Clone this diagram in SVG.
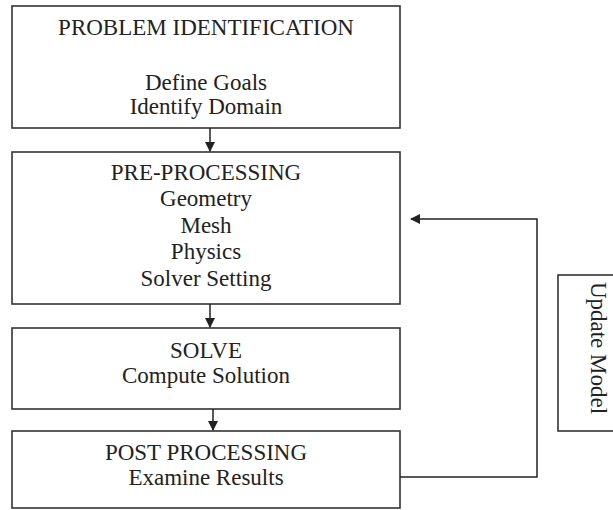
<svg xmlns="http://www.w3.org/2000/svg" width="613" height="510" viewBox="0 0 613 510">
<style>
.box{fill:#fff;stroke:#333;stroke-width:1.6}
.t{font-family:"Liberation Serif","Times New Roman",serif;font-size:23px;fill:#222;text-anchor:middle}
.c{fill:none;stroke:#222;stroke-width:1.5}
</style>
<defs>
<marker id="ah" viewBox="0 0 10 10" refX="9" refY="5" markerWidth="10" markerHeight="10" markerUnits="userSpaceOnUse" orient="auto">
<path d="M0,0 L10,5 L0,10 Z" fill="#222"/>
</marker>
</defs>
<rect width="613" height="510" fill="#fff"/>
<g id="problem-identification">
<rect class="box" x="12" y="6" width="388" height="122"/>
<text class="t" x="206" y="35">PROBLEM IDENTIFICATION</text>
<text class="t" x="206" y="90">Define Goals</text>
<text class="t" x="206" y="114">Identify Domain</text>
</g>
<g id="pre-processing">
<rect class="box" x="12" y="152" width="388" height="152"/>
<text class="t" x="206" y="180">PRE-PROCESSING</text>
<text class="t" x="206" y="206">Geometry</text>
<text class="t" x="206" y="233">Mesh</text>
<text class="t" x="206" y="259">Physics</text>
<text class="t" x="206" y="286">Solver Setting</text>
</g>
<g id="solve">
<rect class="box" x="12" y="328" width="388" height="81"/>
<text class="t" x="206" y="358">SOLVE</text>
<text class="t" x="206" y="383">Compute Solution</text>
</g>
<g id="post-processing">
<rect class="box" x="12" y="431" width="388" height="77"/>
<text class="t" x="206" y="460">POST PROCESSING</text>
<text class="t" x="206" y="485">Examine Results</text>
</g>
<g id="update-model">
<rect class="box" x="558" y="275" width="60" height="156"/>
<text class="t" transform="translate(591,348) rotate(90)" x="0" y="0">Update Model</text>
</g>
<g id="connectors">
<line class="c" x1="210" y1="128" x2="210" y2="151" marker-end="url(#ah)"/>
<line class="c" x1="210" y1="304" x2="210" y2="327" marker-end="url(#ah)"/>
<line class="c" x1="213" y1="409" x2="213" y2="430" marker-end="url(#ah)"/>
<polyline class="c" points="400,477 537,477 537,219 411,219" marker-end="url(#ah)"/>
</g>
</svg>
